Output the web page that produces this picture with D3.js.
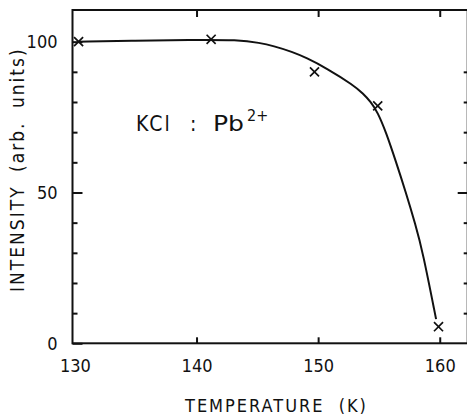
<!DOCTYPE html>
<html><head><meta charset="utf-8">
<script src="https://cdn.jsdelivr.net/npm/d3@7"></script>
<style>
html,body{margin:0;padding:0;background:#fff;}
text{font-family:"Liberation Sans Narrow","DejaVu Sans Condensed",sans-serif;fill:#111;}
</style></head>
<body>
<svg id="c" width="467" height="414"></svg>
<script>
// Data
const markerT = [130.3, 141.2, 149.7, 154.9, 159.9];
const markerI = [100.0, 100.8, 90.0, 78.7, 5.5];
const curveT = [130.3, 135.0, 139.4, 143.5, 145.2, 146.3, 147.9, 149.0, 150.7, 152.9, 153.7, 154.3, 154.9, 155.6, 156.4, 157.2, 158.0, 158.6, 159.7];
const curveI = [100.0, 100.3, 100.6, 100.6, 99.6, 98.6, 96.6, 94.7, 91.2, 85.6, 82.8, 80.2, 76.6, 69.8, 60.2, 50.2, 39.4, 30.4, 8.0];
const xTicks = [130, 140, 150, 160];
const yMajor = [0, 50, 100];
const yMinor = [10, 20, 30, 40, 60, 70, 80, 90];
const xLabel = "TEMPERATURE (K)";
const yLabel = "INTENSITY (arb. units)";

const svg = d3.select("#c");
const x = d3.scaleLinear().domain([129.8, 162.3]).range([72.5, 467.7]);
const y = d3.scaleLinear().domain([0, 110.5]).range([343.3, 10]);
const ink = "#111";

// frame
svg.append("rect")
  .attr("x", x(129.8)).attr("y", y(110.5))
  .attr("width", x(162.3) - x(129.8)).attr("height", y(0) - y(110.5))
  .attr("fill", "none").attr("stroke", ink).attr("stroke-width", 2);

// x axis bottom (ticks inward) + labels
const xb = svg.append("g").attr("transform", `translate(0,${y(0)})`)
  .call(d3.axisBottom(x).tickValues(xTicks).tickSize(-6).tickPadding(16).tickFormat(d3.format("d")));
xb.select(".domain").remove();
xb.selectAll("line").filter(d => d === 130).remove();
xb.selectAll("line").attr("stroke", ink).attr("stroke-width", 2);
xb.selectAll("text").attr("font-size", 18).attr("font-family", null).attr("fill", ink);

// x axis top ticks
const xt = svg.append("g").attr("transform", `translate(0,${y(110.5)})`)
  .call(d3.axisTop(x).tickValues(xTicks.filter(d => d !== 130)).tickSize(-7).tickFormat(""));
xt.select(".domain").remove();
xt.selectAll("line").attr("stroke", ink).attr("stroke-width", 2);

// y axis left
const yl = svg.append("g").attr("transform", `translate(${x(129.8)},0)`)
  .call(d3.axisLeft(y).tickValues(yMajor).tickSize(-10).tickPadding(15).tickFormat(d3.format("d")));
yl.select(".domain").remove();
yl.selectAll("line").attr("stroke", ink).attr("stroke-width", 2);
yl.selectAll("text").attr("font-size", 18).attr("font-family", null).attr("fill", ink);
const ylm = svg.append("g").attr("transform", `translate(${x(129.8)},0)`)
  .call(d3.axisLeft(y).tickValues(yMinor).tickSize(-5).tickFormat(""));
ylm.select(".domain").remove();
ylm.selectAll("line").attr("stroke", ink).attr("stroke-width", 2);

// y axis right
const yr = svg.append("g").attr("transform", `translate(${x(162.3)},0)`)
  .call(d3.axisRight(y).tickValues([50]).tickSize(-10).tickFormat(""));
yr.select(".domain").remove();
yr.selectAll("line").attr("stroke", ink).attr("stroke-width", 2);
const yrm = svg.append("g").attr("transform", `translate(${x(162.3)},0)`)
  .call(d3.axisRight(y).tickValues(yMinor).tickSize(-4).tickFormat(""));
yrm.select(".domain").remove();
yrm.selectAll("line").attr("stroke", ink).attr("stroke-width", 2);

// curve
const line = d3.line().x(d => x(d[0])).y(d => y(d[1])).curve(d3.curveBasis);
svg.append("path").datum(curveT.map((t, i) => [t, curveI[i]]))
  .attr("d", line).attr("fill", "none").attr("stroke", ink).attr("stroke-width", 2);

// markers
const sym = d3.symbol().type(d3.symbolTimes).size(55);
svg.selectAll(".mk").data(markerT.map((t, i) => [t, markerI[i]])).join("path")
  .attr("class", "mk")
  .attr("transform", d => `translate(${x(d[0])},${y(d[1])})`)
  .attr("d", sym).attr("fill", "none").attr("stroke", ink).attr("stroke-width", 1.7);

// axis titles
svg.append("text").attr("x", 185).attr("y", 411.5)
  .attr("font-size", 18).attr("letter-spacing", "2px").attr("word-spacing", "7px").text(xLabel);
svg.append("text").attr("transform", "translate(24,292) rotate(-90)")
  .attr("font-size", 19).attr("letter-spacing", "2px").attr("word-spacing", "6px").text(yLabel);

// annotation
svg.append("text").attr("x", 136).attr("y", 131).attr("font-size", 21)
  .attr("letter-spacing", "2px").text("KCl");
svg.append("text").attr("x", 190).attr("y", 131).attr("font-size", 21).text(":");
svg.append("text").attr("x", 213).attr("y", 131).attr("font-size", 21)
  .attr("textLength", 31).attr("lengthAdjust", "spacingAndGlyphs").text("Pb");
svg.append("text").attr("x", 247).attr("y", 121).attr("font-size", 16).text("2+");
</script>
</body></html>
